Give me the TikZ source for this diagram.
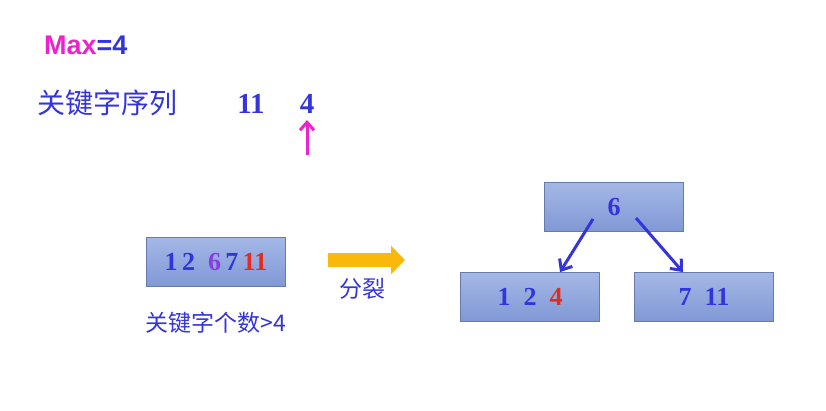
\documentclass[tikz,border=0pt]{standalone}
\usepackage{fontspec}
\setmainfont{Liberation Serif}
\setsansfont{Liberation Sans}
\newfontfamily\cjk{Noto Sans CJK SC}
\usetikzlibrary{arrows.meta}
\definecolor{tb}{HTML}{3434DC}
\definecolor{mag}{HTML}{EE22CC}
\definecolor{rd}{HTML}{E82A1A}
\definecolor{pu}{HTML}{8A3CE0}
\definecolor{bt}{HTML}{A4B8E6}
\definecolor{bb}{HTML}{8098D6}
\tikzset{
  keybox/.style={draw=bb!80!black, line width=0.8pt, top color=bt, bottom color=bb, minimum width=139pt, minimum height=49pt, inner sep=0pt, text=tb, font=\bfseries\fontsize{26}{26}\selectfont},
  txt/.style={text=tb, inner sep=0pt},
  link/.style={draw=tb, line width=3pt, -{Straight Barb[length=9pt,width=15pt]}}
}
\begin{document}
\begin{tikzpicture}[x=1pt,y=-1pt]
\useasboundingbox (0,0) rectangle (826,411);
\node[txt, anchor=west, font=\sffamily\bfseries\fontsize{27}{27}\selectfont] (max) at (44,45) {\textcolor{mag}{Max}=4};
\node[txt, anchor=west, font=\cjk\fontsize{28}{28}\selectfont] (seq) at (37,103) {关键字序列};
\node[txt, font=\bfseries\fontsize{29}{29}\selectfont] (k11) at (251,104) {11};
\node[txt, font=\bfseries\fontsize{29}{29}\selectfont] (k4) at (307,104) {4};
\coordinate (pb) at (307,155);
\coordinate (pt) at (307,120);
\draw[draw=mag, line width=3pt, -{Straight Barb[length=8pt,width=14pt]}] (pb) -- (pt);
\node[keybox] (full) at (216,262) {1\,2\ \ \textcolor{pu}{6}\,7\,\textcolor{rd}{11}};
\node[txt, font=\cjk\fontsize{23}{23}\selectfont] (cnt) at (216,323) {关键字个数>4};
\coordinate (oa) at (328,260);
\coordinate (ob) at (405,260);
\draw[draw={rgb,255:red,250;green,185;blue,10}, line width=14pt, -{Triangle[length=14pt,width=28pt]}] (oa) -- (ob);
\node[txt, font=\cjk\fontsize{23}{23}\selectfont] (split) at (362,289) {分裂};
\node[keybox] (root) at (614,207) {6};
\node[keybox] (lft) at (530,297) {1\ \ 2\ \ \textcolor{rd}{4}};
\node[keybox] (rgt) at (704,297) {7\ \ 11};
\coordinate (r1) at (593,219);
\coordinate (r2) at (636,218);
\draw[link] (r1) -- (lft.north -| 560,0);
\draw[link] (r2) -- (rgt.north -| 683,0);
\end{tikzpicture}
\end{document}
